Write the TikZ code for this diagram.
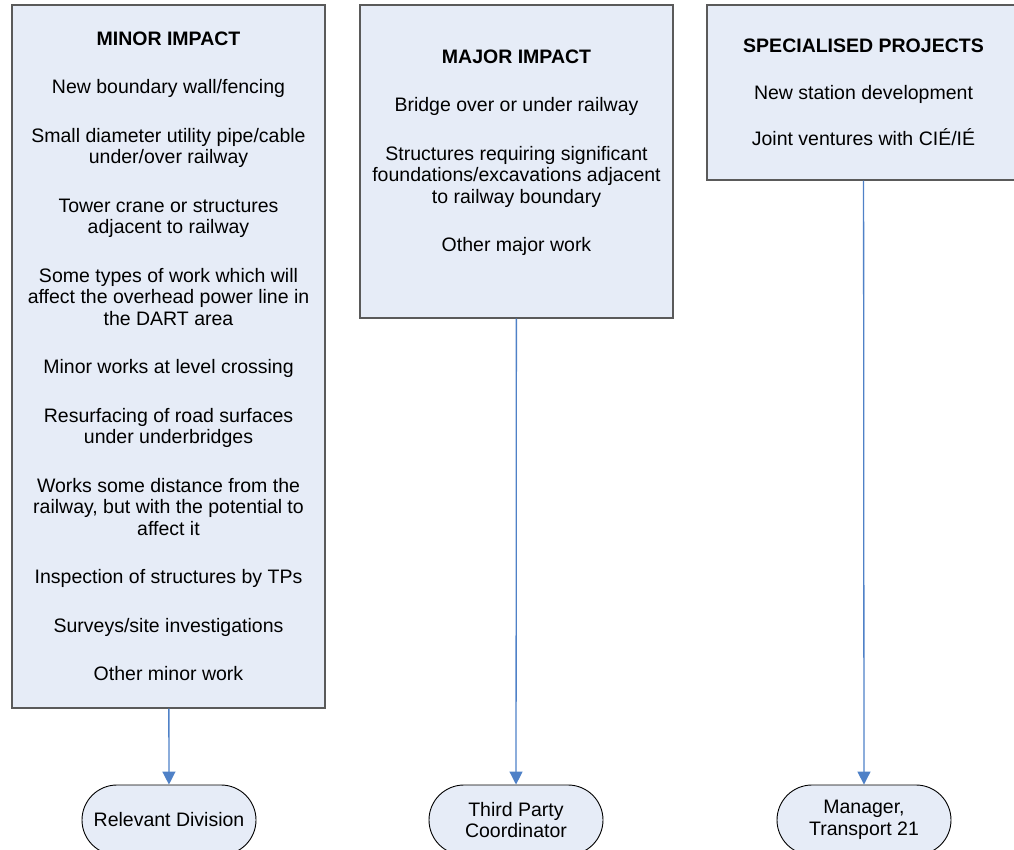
\documentclass[tikz,border=0pt]{standalone}
\usepackage{fontspec}
\setmainfont{Liberation Sans}
\usetikzlibrary{arrows.meta,shapes.misc}
\definecolor{boxfill}{RGB}{230,236,247}
\definecolor{boxline}{RGB}{90,90,90}
\definecolor{flowblue}{RGB}{79,129,199}

\begin{document}
\begin{tikzpicture}[x=1pt,y=-1pt,
  font=\fontsize{19.5}{21.5}\selectfont,
  category/.style={rectangle,draw=boxline,line width=1.4pt,fill=boxfill,
                   minimum width=313pt,align=center,inner sep=0pt},
  outcome/.style={rounded rectangle,draw=black,line width=0.9pt,fill=boxfill,
                  minimum width=174pt,minimum height=70pt,align=center,inner sep=0pt},
  ->,>={Triangle[width=13pt,length=13pt]},
  flow/.style={color=flowblue,line width=1.3pt}]
\useasboundingbox (0,0) rectangle (1014,850);
\clip (0,0) rectangle (1014,850);

  \node[category,minimum height=703pt] (minor)   at (168.5,356.5) {%
    \textbf{MINOR IMPACT}\\[27pt]
    New boundary wall/fencing\\[27pt]
    Small diameter utility pipe/cable\\ under/over railway\\[27pt]
    Tower crane or structures\\ adjacent to railway\\[27pt]
    Some types of work which will\\ affect the overhead power line in\\ the DART area\\[27pt]
    Minor works at level crossing\\[27pt]
    Resurfacing of road surfaces\\ under underbridges\\[27pt]
    Works some distance from the\\ railway, but with the potential to\\ affect it\\[27pt]
    Inspection of structures by TPs\\[27pt]
    Surveys/site investigations\\[27pt]
    Other minor work};
  \node[category,minimum height=313pt] (major)   at (516.5,161.5) {%
    \textbf{MAJOR IMPACT}\\[27pt]
    Bridge over or under railway\\[27pt]
    Structures requiring significant\\ foundations/excavations adjacent\\ to railway boundary\\[27pt]
    Other major work\\ \mbox{}};
  \node[category,minimum height=175pt] (special) at (863.5,92.5) {%
    \textbf{SPECIALISED PROJECTS}\\[25pt]
    New station development\\[25pt]
    Joint ventures with CIÉ/IÉ};

  \node[outcome] (division)    at (169,820) {Relevant Division};
  \node[outcome] (coordinator) at (516,820) {Third Party\\ Coordinator};
  \node[outcome] (manager)     at (864,820) {Manager,\\ Transport 21};

  \path[flow] (minor)   edge (division)
              (major)   edge (coordinator)
              (special) edge (manager);

\end{tikzpicture}
\end{document}
